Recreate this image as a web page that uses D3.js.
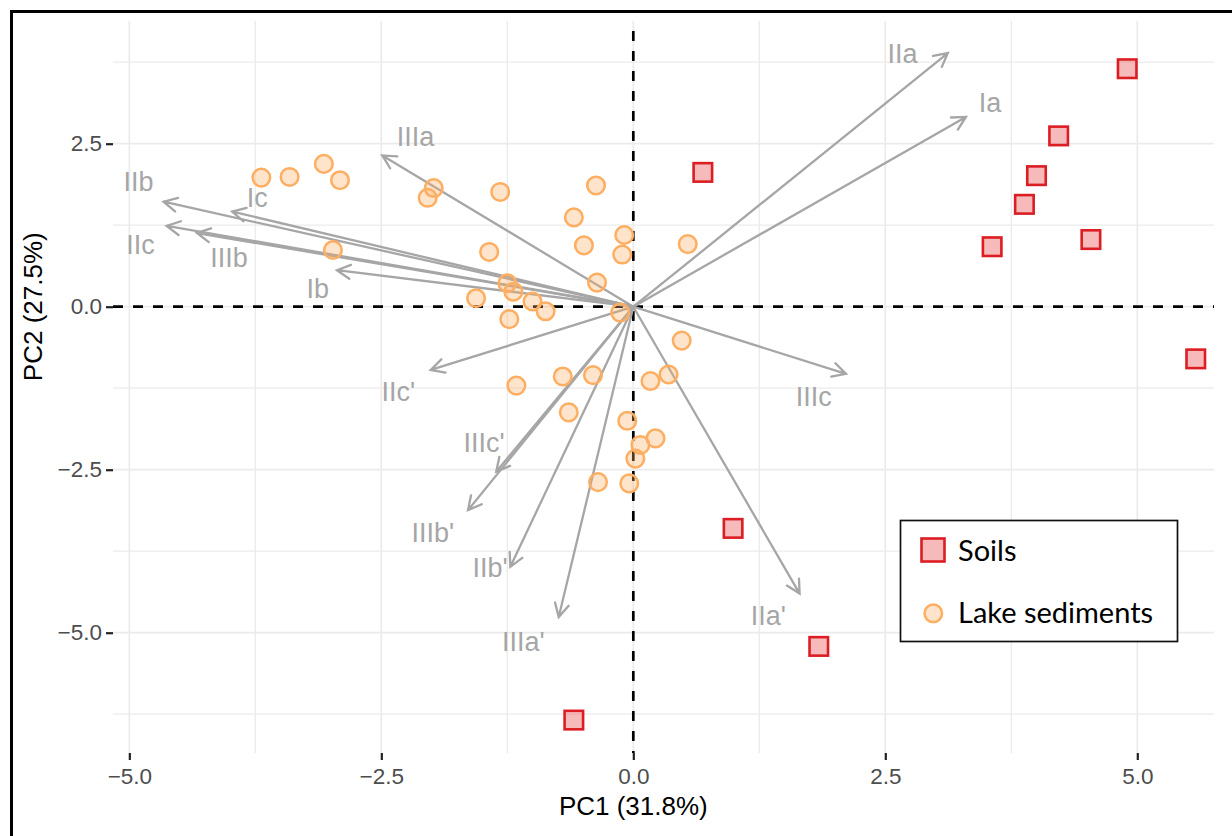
<!DOCTYPE html>
<html>
<head>
<meta charset="utf-8">
<script src="https://cdn.jsdelivr.net/npm/d3@7"></script>
<style>
  html, body { margin: 0; padding: 0; background: #fff; }
  svg { display: block; }
</style>
</head>
<body>
<svg id="chart" width="1232" height="836"></svg>
<script>
// --- data ---
const soilsPC1 = [0.69, 4.90, 4.22, 4.00, 3.88, 3.56, 4.54, 5.58, 0.99, 1.84, -0.59];
const soilsPC2 = [2.06, 3.65, 2.62, 2.01, 1.57, 0.92, 1.03, -0.80, -3.40, -5.21, -6.34];

const lakePC1 = [-3.69, -3.41, -3.07, -2.91, -2.98, -1.98, -2.04, -1.32, -0.37, -0.59, -0.09, -0.49,
                 -0.11, -1.43, 0.54, -0.36, -1.25, -1.19, -1.56, -1.00, -0.87, -1.23, -0.13, 0.48,
                 -1.16, -0.70, -0.40, 0.17, 0.35, -0.64, -0.06, 0.22, 0.07, 0.02, -0.35, -0.04];
const lakePC2 = [1.98, 1.99, 2.19, 1.94, 0.87, 1.82, 1.67, 1.76, 1.86, 1.37, 1.10, 0.94,
                 0.80, 0.84, 0.96, 0.37, 0.36, 0.23, 0.13, 0.08, -0.07, -0.19, -0.09, -0.52,
                 -1.21, -1.07, -1.05, -1.14, -1.04, -1.62, -1.75, -2.02, -2.12, -2.33, -2.69, -2.71];

const varNames  = ['IIa', 'Ia', 'IIIa', 'IIb', 'Ic', 'IIc', 'IIIb', 'Ib',
                   "IIc'", 'IIIc', "IIIc'", "IIIb'", "IIb'", "IIIa'", "IIa'"];
const varPC1    = [3.12, 3.30, -2.49, -4.66, -3.98, -4.63, -4.33, -2.94,
                   -2.01, 2.11, -1.36, -1.64, -1.22, -0.74, 1.65];
const varPC2    = [3.89, 2.91, 2.32, 1.61, 1.46, 1.24, 1.13, 0.56,
                   -0.97, -1.03, -2.53, -3.12, -3.99, -4.76, -4.40];
// label anchors (repelled text positions)
const labelPC1  = [2.67, 3.54, -2.16, -4.91, -3.73, -4.89, -4.01, -3.13,
                   -2.33, 1.79, -1.48, -1.99, -1.42, -1.09, 1.34];
const labelPC2  = [3.89, 3.13, 2.61, 1.93, 1.68, 0.95, 0.76, 0.29,
                   -1.29, -1.38, -2.08, -3.46, -4.00, -5.13, -4.74];

const xMajor = [-5, -2.5, 0, 2.5, 5];
const xMinor = [-3.75, -1.25, 1.25, 3.75];
const yMajor = [-5, -2.5, 0, 2.5];
const yMinor = [-6.25, -3.75, -1.25, 1.25, 3.75];

const xTitle = 'PC1 (31.8%)';
const yTitle = 'PC2 (27.5%)';
const groups = ['Soils', 'Lake sediments'];

// --- layout ---
const panel = {left: 113, right: 1214, top: 21, bottom: 753};
const svg   = d3.select('svg#chart');
const sans  = '"Liberation Sans", Arial, sans-serif';

const x = d3.scaleLinear().domain([-5.162, 5.761]).range([panel.left, panel.right]);
const y = d3.scaleLinear().domain([-6.845, 4.382]).range([panel.bottom, panel.top]);

const gridG   = svg.append('g').classed('grid', true);
const refG    = svg.append('g').classed('ref-lines', true);
const arrowsG = svg.append('g').classed('arrows', true);
const pointsG = svg.append('g').classed('points', true);

// grid
gridG.selectAll('line.vx')
  .data(xMajor.concat(xMinor))
  .join('line')
  .attr('x1', d => x(d)).attr('x2', d => x(d))
  .attr('y1', panel.top).attr('y2', panel.bottom)
  .attr('stroke', '#ebebeb').attr('stroke-width', d => xMajor.includes(d) ? 1.7 : 1.3);
gridG.selectAll('line.hy')
  .data(yMajor.concat(yMinor))
  .join('line')
  .attr('y1', d => y(d)).attr('y2', d => y(d))
  .attr('x1', panel.left).attr('x2', panel.right)
  .attr('stroke', '#ebebeb').attr('stroke-width', d => yMajor.includes(d) ? 1.7 : 1.3);

// axes
const tickFmt = d3.format('.1f');
const yAxis = svg.append('g')
  .attr('transform', `translate(${panel.left},0)`)
  .call(d3.axisLeft(y).tickValues(yMajor).tickFormat(tickFmt).tickSize(7).tickPadding(4));
const xAxis = svg.append('g')
  .attr('transform', `translate(0,${panel.bottom})`)
  .call(d3.axisBottom(x).tickValues(xMajor).tickFormat(tickFmt).tickSize(7).tickPadding(8));
[xAxis, yAxis].forEach(a => {
  a.select('.domain').remove();
  a.selectAll('.tick line').attr('stroke', '#222').attr('stroke-width', 2.2);
  a.selectAll('.tick text')
    .attr('fill', '#4d4d4d')
    .style('font-family', sans)
    .style('font-size', '22.5px');
});

svg.append('text')
  .attr('x', x(0)).attr('y', 815)
  .attr('text-anchor', 'middle')
  .style('font-family', sans)
  .style('font-size', '26px')
  .text(xTitle);
svg.append('text')
  .attr('transform', `translate(42,${y(0)}) rotate(-90)`)
  .attr('text-anchor', 'middle')
  .style('font-family', sans)
  .style('font-size', '26px')
  .text(yTitle);

// zero reference lines
refG.append('line')
  .attr('x1', panel.left).attr('x2', panel.right)
  .attr('y1', y(0)).attr('y2', y(0));
refG.append('line')
  .attr('x1', x(0)).attr('x2', x(0))
  .attr('y1', panel.top + 10).attr('y2', panel.bottom);
refG.selectAll('line')
  .attr('stroke', '#000').attr('stroke-width', 2.7).attr('stroke-dasharray', '10,10');

// loading arrows
const vars = varNames.map((name, i) => ({
  name, px: varPC1[i], py: varPC2[i], lx: labelPC1[i], ly: labelPC2[i]
}));
const arrowColor = '#a6a6a6';
const headLen = 15, headAng = Math.PI / 6.5;

arrowsG.selectAll('path.arrow')
  .data(vars)
  .join('path')
  .classed('arrow', true)
  .attr('fill', 'none')
  .attr('stroke', arrowColor)
  .attr('stroke-width', 2.3)
  .attr('stroke-linecap', 'round')
  .attr('d', d => {
    const x0 = x(0), y0 = y(0), x1 = x(d.px), y1 = y(d.py);
    const a  = Math.atan2(y1 - y0, x1 - x0);
    const b1 = [x1 - headLen * Math.cos(a - headAng), y1 - headLen * Math.sin(a - headAng)];
    const b2 = [x1 - headLen * Math.cos(a + headAng), y1 - headLen * Math.sin(a + headAng)];
    return `M${x0},${y0}L${x1},${y1}M${b1[0]},${b1[1]}L${x1},${y1}L${b2[0]},${b2[1]}`;
  });

arrowsG.selectAll('text.label')
  .data(vars)
  .join('text')
  .classed('label', true)
  .attr('x', d => x(d.lx))
  .attr('y', d => y(d.ly))
  .attr('dy', '0.36em')
  .attr('text-anchor', 'middle')
  .attr('fill', arrowColor)
  .style('font-family', sans)
  .style('font-size', '27px')
  .text(d => d.name);

// points
const soilStroke = '#dc1d24', soilFill = 'rgba(228,26,28,0.3)';
const lakeStroke = '#fdae61', lakeFill = 'rgba(253,174,97,0.33)';
const sq = 18.5;

pointsG.selectAll('circle.lake')
  .data(lakePC1.map((v, i) => [v, lakePC2[i]]))
  .join('circle')
  .classed('lake', true)
  .attr('cx', d => x(d[0])).attr('cy', d => y(d[1]))
  .attr('r', 8.8)
  .attr('fill', lakeFill).attr('stroke', lakeStroke).attr('stroke-width', 2.5);

pointsG.selectAll('rect.soil')
  .data(soilsPC1.map((v, i) => [v, soilsPC2[i]]))
  .join('rect')
  .classed('soil', true)
  .attr('x', d => x(d[0]) - sq / 2).attr('y', d => y(d[1]) - sq / 2)
  .attr('width', sq).attr('height', sq)
  .attr('fill', soilFill).attr('stroke', soilStroke).attr('stroke-width', 2.6);

// legend
const legendG = svg.append('g').classed('legend', true);
legendG.append('rect')
  .attr('x', 900.5).attr('y', 520.5).attr('width', 277).attr('height', 121)
  .attr('fill', '#fff').attr('stroke', '#111').attr('stroke-width', 1.7);
legendG.append('rect')
  .attr('x', 921.5).attr('y', 538.5).attr('width', 23).attr('height', 23)
  .attr('fill', soilFill).attr('stroke', soilStroke).attr('stroke-width', 2.6);
legendG.append('circle')
  .attr('cx', 933.3).attr('cy', 613.3).attr('r', 8.8)
  .attr('fill', lakeFill).attr('stroke', lakeStroke).attr('stroke-width', 2.5);
legendG.selectAll('text')
  .data(groups)
  .join('text')
  .attr('x', 958)
  .attr('y', (d, i) => i === 0 ? 561 : 623)
  .attr('fill', '#000')
  .style('font-family', 'Lato, "Open Sans", sans-serif')
  .style('font-size', '29px')
  .text(d => d);

// figure frame (left and top edges visible in the reference)
svg.append('path')
  .attr('d', 'M11.5,836V11.5H1232')
  .attr('fill', 'none').attr('stroke', '#000').attr('stroke-width', 3);
</script>
</body>
</html>
